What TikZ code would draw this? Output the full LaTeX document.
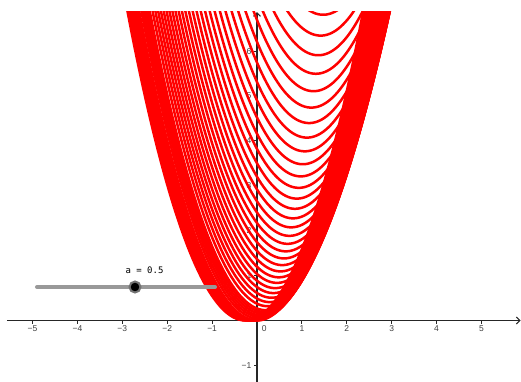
\documentclass[tikz,border=0pt]{standalone}
\usepackage{fontspec}
\setmainfont{Liberation Sans}
\newfontfamily\slidermono{DejaVu Sans Mono}
\usetikzlibrary{arrows.meta}
\begin{document}
\begin{tikzpicture}[x=44.9pt,y=44.9pt,
  axisline/.style={line width=1.1pt, black!85},
  axtick/.style={line width=0.9pt, black!85},
  ticklabel/.style={inner sep=0pt, font=\fontsize{8.5}{9}\selectfont, text=black!75},
  curve/.style={red, line width=2.5pt},
  sliderline/.style={line width=4pt, line cap=round, black!40},
  knob/.style={circle, fill=black, draw=black!55, line width=2pt, minimum size=11pt, inner sep=0pt},
  sliderlabel/.style={inner sep=0pt, font=\slidermono\fontsize{9}{10}\selectfont}]
\useasboundingbox (-5.7238,-1.3697) rectangle (5.8797,7.1381);
% axes
\draw[axisline, -{Straight Barb[length=3.5pt, width=7pt]}] (-5.57,0) -- (5.87,0);
\draw[axisline, -{Straight Barb[length=3.5pt, width=7pt]}] (0,-1.37) -- (0,6.87);
\foreach \i/\n/\t in {-5/a/−5,-4/b/−4,-3/c/−3,-2/d/−2,-1/e/−1,1/f/1,2/g/2,3/h/3,4/i/4,5/j/5}{
  \draw[axtick] (\i,0) -- (\i,-0.07);
  \node[ticklabel] (xl\n) at (\i,-0.19) {\t};
}
\node[ticklabel] (xl0) at (0.163,-0.19) {0};
\foreach \j/\n/\t in {-1/a/−1,1/b/1,2/c/2,3/d/3,4/e/4,5/f/5,6/g/6}{
  \draw[axtick] (0,\j) -- (-0.07,\j);
  \node[ticklabel, anchor=east] (yl\n) at (-0.12,\j) {\t};
}
% family of parabolas y = (x-h)^2 + v
\begin{scope}
\clip (-5.57,-1.37) rectangle (5.88,6.871);
\foreach \k in {-8,...,-1}{
  \pgfmathsetmacro\hh{0.0325*\k}
  \pgfmathsetmacro\ww{sqrt(7.1)}
  \pgfmathsetmacro\xa{\hh-\ww}
  \pgfmathsetmacro\xb{\hh+\ww}
  \draw[curve] plot[domain=\xa:\xb, samples=90] (\x, {(\x-\hh)*(\x-\hh)});
}
\foreach \k in {0,0.5,1,1.5,2,2.5,3,4,...,32}{
  \pgfmathsetmacro\vv{1.17*(exp(0.06*\k)-1)}
  \pgfmathsetmacro\hh{(-0.69+sqrt(0.476+10.68*\vv))/5.34}
  \pgfmathsetmacro\ww{sqrt(7.1-\vv)}
  \pgfmathsetmacro\xa{\hh-\ww}
  \pgfmathsetmacro\xb{\hh+\ww}
  \draw[curve] plot[domain=\xa:\xb, samples=90] (\x, {(\x-\hh)*(\x-\hh)+\vv});
}
\end{scope}
% slider
\coordinate (s0) at (-4.900,0.746);
\coordinate (s1) at (-0.935,0.746);
\draw[sliderline] (s0) -- (s1);
\node[knob] (knob) at (-2.717,0.746) {};
\node[sliderlabel] (alabel) at (-2.506,1.125) {a = 0.5};
\end{tikzpicture}
\end{document}
